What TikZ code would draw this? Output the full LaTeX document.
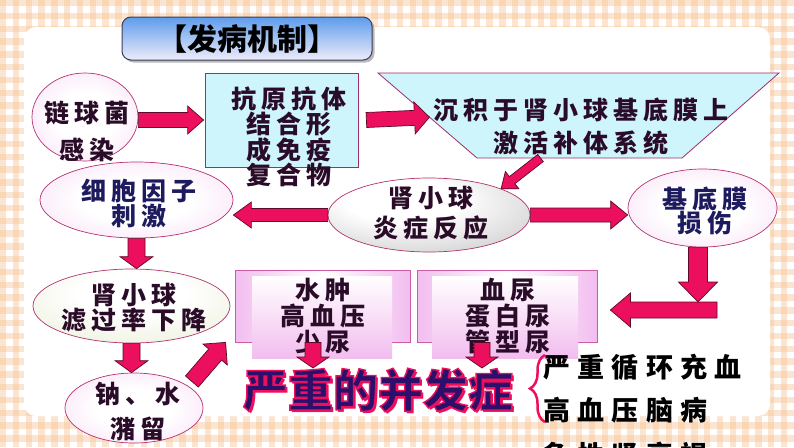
\documentclass[tikz,border=0pt]{standalone}
\usepackage{fontspec}
\setmainfont{Noto Sans CJK SC}
\newfontfamily\bodyf[LetterSpace=20]{Noto Sans CJK SC}
\newfontfamily\listf[LetterSpace=27]{Noto Sans CJK SC}
\usetikzlibrary{shapes.geometric,arrows.meta,shadows,decorations.pathreplacing,calc}

\definecolor{crim}{HTML}{EC0F5E}
\definecolor{crimdark}{HTML}{5E0A26}
\definecolor{edgepink}{HTML}{B4326E}
\definecolor{boxedge}{HTML}{9E2E6A}
\definecolor{boxpinkedge}{HTML}{CC5CA8}
\definecolor{cyanfill}{HTML}{CDF5FB}
\definecolor{pinkfill}{HTML}{F3C8F1}
\definecolor{pinkbox}{HTML}{F2BDEF}
\definecolor{greenfill}{HTML}{DCE5BE}
\definecolor{grayedge}{HTML}{AEAEAE}
\definecolor{txt}{HTML}{2A0C28}
\definecolor{navy}{HTML}{1D1B5E}
\definecolor{peach}{HTML}{F5C08E}
\definecolor{titletop}{HTML}{5E9CEC}
\definecolor{titlebot}{HTML}{EEECFA}
\definecolor{titleedge}{HTML}{3C3C5A}
\definecolor{wordnavy}{HTML}{2C0F6A}

\pgfdeclareradialshading{pinkr}{\pgfpoint{0bp}{0bp}}{color(0bp)=(white); color(14bp)=(white); color(50bp)=(pinkfill); color(75bp)=(pinkfill)}
\pgfdeclareradialshading{grayr}{\pgfpoint{-8bp}{12bp}}{color(0bp)=(white); color(14bp)=(white); color(55bp)=(grayedge); color(80bp)=(grayedge)}
\pgfdeclareradialshading{greenr}{\pgfpoint{0bp}{10bp}}{color(0bp)=(white); color(14bp)=(white); color(55bp)=(greenfill); color(80bp)=(greenfill)}

% block arrow: #2 start, #3 target, #4 half shaft, #5 half head, #6 head length
\newcommand\blockarr[6][]{%
  \filldraw[arrowbody,#1] ($#2!#4!90:#3$) -- ($($#3!#6!#2$)!#4!90:#3$) -- ($($#3!#6!#2$)!#5!90:#3$) -- #3 -- ($($#3!#6!#2$)!#5!-90:#3$) -- ($($#3!#6!#2$)!#4!-90:#3$) -- ($#2!#4!-90:#3$) -- cycle;}

\tikzset{
  arrowbody/.style={fill=crim, draw=crimdark, line width=0.7pt, line join=miter},
  ell/.style={ellipse, draw=edgepink, line width=0.7pt, inner sep=0pt},
  tx/.style={inner sep=0pt, align=center, text=txt},
}

\begin{document}
\begin{tikzpicture}[x=1pt,y=-1pt]
\useasboundingbox (0,0) rectangle (794,447);
\clip (0,0) rectangle (794,447);
% gingham background
\fill[white] (0,0) rectangle (794,447);
\foreach \i in {0,...,62} {\fill[peach, opacity=.4] (\i*12.8,0) rectangle ++(6.4,447);}
\foreach \j in {0,...,35} {\fill[peach, opacity=.4] (0,\j*12.8) rectangle ++(794,6.4);}
% white panel
\fill[white, rounded corners=12pt] (24,27) rectangle (770,416);

% title
\node[draw=titleedge, line width=1pt, rounded corners=9pt, top color=titletop, bottom color=titlebot,
      minimum width=250pt, minimum height=43pt, inner sep=0pt,
      drop shadow={shadow xshift=2.5pt, shadow yshift=-2.5pt, fill=black!45, opacity=.6},
      font=\bfseries\fontsize{30pt}{30pt}\selectfont] (title) at (247,38.5) {【发病机制】};

% shapes
\node[ell, shading=pinkr, minimum width=106pt, minimum height=88pt] (e1) at (85,117) {};
\node[draw=boxedge, fill=cyanfill, line width=.8pt, minimum width=153pt, minimum height=94pt, inner sep=0pt] (b2) at (281.5,120) {};
\coordinate (tTL) at (378,73);
\coordinate (tTR) at (779,73);
\coordinate (tBR) at (682,158);
\coordinate (tBL) at (477,158);
\filldraw[fill=cyanfill, draw=boxedge, line width=.8pt] (tTL) -- (tTR) -- (tBR) -- (tBL) -- cycle;
\node[ell, shading=grayr, minimum width=202pt, minimum height=74pt] (e3) at (429,215) {};
\node[ell, shading=pinkr, minimum width=193pt, minimum height=76pt] (e4) at (136.5,200) {};
\node[ell, shading=pinkr, minimum width=149pt, minimum height=78pt] (e5) at (702.5,208) {};
\node[ell, shading=greenr, minimum width=197pt, minimum height=74pt] (e6) at (131.5,306) {};
\node[ell, shading=pinkr, minimum width=138pt, minimum height=70pt] (e7) at (134,408) {};
\node[draw=boxpinkedge, line width=.8pt, left color=pinkbox, right color=pinkbox, middle color=white,
      minimum width=175pt, minimum height=72pt, inner sep=0pt] (b3) at (322.5,306) {};
\node[top color=white, bottom color=pinkbox, minimum width=140pt, minimum height=82pt, inner sep=0pt] (b3i) at (322,317) {};
\node[draw=boxpinkedge, line width=.8pt, left color=pinkbox, right color=pinkbox, middle color=white,
      minimum width=180pt, minimum height=72pt, inner sep=0pt] (b4) at (507,306) {};
\node[top color=white, bottom color=pinkbox, minimum width=146pt, minimum height=82pt, inner sep=0pt] (b4i) at (505,317) {};

% texts
\node[tx, font=\bodyf\bfseries\fontsize{25pt}{37pt}\selectfont] (e1t) at (87,131) {链球菌\\感染};
\node[tx, font=\bodyf\bfseries\fontsize{25pt}{22.3pt}\selectfont] (b2t) at (289,137) {抗原抗体\\结合形\\成免疫\\复合物};
\node[tx, font=\bodyf\bfseries\fontsize{25pt}{33pt}\selectfont] (trapt) at (581,127) {沉积于肾小球基底膜上\\激活补体系统};
\node[tx, font=\bodyf\bfseries\fontsize{25pt}{30pt}\selectfont] (e3t) at (431,213) {肾小球\\炎症反应};
\node[tx, text=navy, font=\bodyf\bfseries\fontsize{25pt}{25pt}\selectfont] (e4t) at (139,203) {细胞因子\\刺激};
\node[tx, text=navy, font=\bodyf\bfseries\fontsize{25pt}{23pt}\selectfont] (e5t) at (705,211) {基底膜\\损伤};
\node[tx, font=\bodyf\bfseries\fontsize{25pt}{25pt}\selectfont] (e6t) at (134,308) {肾小球\\滤过率下降};
\node[tx, font=\bodyf\bfseries\fontsize{25pt}{35pt}\selectfont] (e7t) at (138,412) {钠、水\\潴留};
\node[tx, font=\bodyf\bfseries\fontsize{25pt}{26pt}\selectfont] (b3t) at (323,316) {水肿\\高血压\\少尿};
\node[tx, font=\bodyf\bfseries\fontsize{25pt}{26pt}\selectfont] (b4t) at (508,316) {血尿\\蛋白尿\\管型尿};

% complication word art
\node[inner sep=0pt, text=crim, font=\bfseries\fontsize{45pt}{45pt}\selectfont] (compsh) at (380.5,392.5) {严重的并发症};
\node[inner sep=0pt, text=wordnavy, font=\bfseries\fontsize{45pt}{45pt}\selectfont] (comp) at (378,390)
  {\special{pdf:literal direct 2 Tr 1.4 w 0.93 0.06 0.37 RG}严重的并发症\special{pdf:literal direct 0 Tr}};

% brace and list
\coordinate (brb) at (545,422);
\coordinate (brt) at (545,355);
\draw[crim, line width=2.5pt, decorate, decoration={brace, amplitude=15pt}] (brb) -- (brt);
\node[anchor=west, inner sep=0pt, text=black, font=\listf\bfseries\fontsize{27pt}{27pt}\selectfont] (l1) at (543,367) {严重循环充血};
\node[anchor=west, inner sep=0pt, text=black, font=\listf\bfseries\fontsize{27pt}{27pt}\selectfont] (l2) at (543,410) {高血压脑病};
\node[anchor=west, inner sep=0pt, text=black, font=\listf\bfseries\fontsize{27pt}{27pt}\selectfont] (l3) at (543,455) {急性肾衰竭};

% arrows
\coordinate (bend) at (698,302);
\coordinate (ltail) at (717,310);
\coordinate (ltip) at ($(b4.east |- ltail)+(13,0)$);
\blockarr{(e1.east |- b2.west)}{([xshift=-1pt]b2.west)}{7.5pt}{14pt}{16pt}
\blockarr{([xshift=8pt]b2.east)}{($(tTL)!0.52!(tBL)$)}{7.5pt}{16pt}{15pt}
\blockarr{($(tBL)!0.31!(tBR)$)}{(e3.20)}{4.5pt}{11pt}{14pt}
\blockarr{(e3.west)}{(e3.west -| e4.east)}{6.5pt}{13pt}{18pt}
\blockarr{(e3.east)}{(e3.east -| e5.west)}{7pt}{14pt}{17pt}
\blockarr{(ltail)}{(ltip)}{8pt}{17pt}{20pt}
\blockarr{(e5.south -| bend)}{(bend)}{9.5pt}{19.5pt}{20pt}
\blockarr{(e4.south)}{(e4.south |- e6.north)}{8.5pt}{16.5pt}{12pt}
\blockarr{(e6.south)}{(e6.south |- e7.north)}{8.5pt}{16.5pt}{12pt}
\blockarr{([xshift=12pt]e7.30)}{([xshift=-9pt]b3.south west)}{8.5pt}{16pt}{16pt}
\blockarr{($(b3.south)+(-9.5,0)$)}{($(b3.south |- comp.north)+(-9.5,0)$)}{8pt}{16pt}{11pt}
\blockarr{($(b4.south)+(-25,0)$)}{($(b4.south |- comp.north)+(-25,0)$)}{8pt}{16pt}{11pt}
\end{tikzpicture}
\end{document}
